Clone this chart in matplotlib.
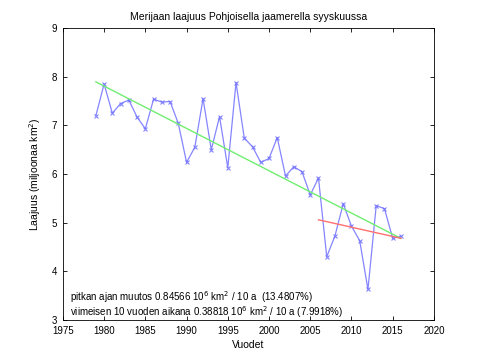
import numpy as np
import matplotlib
matplotlib.use('Agg')
import matplotlib.pyplot as plt

# September sea ice extent, million km^2
years = list(range(1979, 2017))
extent = [7.20, 7.85, 7.25, 7.45, 7.52, 7.17, 6.93, 7.54, 7.48, 7.49,
          7.04, 6.24, 6.55, 7.55, 6.50, 7.18, 6.13, 7.88, 6.74, 6.56,
          6.24, 6.32, 6.75, 5.96, 6.15, 6.05, 5.57, 5.92, 4.30, 4.73,
          5.39, 4.93, 4.63, 3.63, 5.35, 5.29, 4.68, 4.72]

title = 'Merijaan laajuus Pohjoisella jaamerella syyskuussa'
xlabel = 'Vuodet'
ylabel = 'Laajuus (miljoonaa km$^2$)'
note_long = 'pitkan ajan muutos 0.84566 10$^6$ km$^2$ / 10 a  (13.4807%)'
note_short = 'viimeisen 10 vuoden aikana 0.38818 10$^6$ km$^2$ / 10 a (7.9918%)'

plt.rcParams['font.family'] = ['Liberation Sans', 'DejaVu Sans']
plt.rcParams['font.size'] = 7

x = np.array(years)
y = np.array(extent)

fig = plt.figure(figsize=(4.8, 3.6), dpi=100)
ax = fig.add_axes([0.131, 0.111, 0.773, 0.811])

ax.plot(x, y, color='#7070ff', marker='x', markersize=3, linewidth=0.9,
        markeredgewidth=0.8, alpha=0.85)

# long-term trend
p = np.polyfit(x, y, 1)
ax.plot(x, np.polyval(p, x), color='#70ee70', linewidth=1)

# last 10 years trend
recent = x >= 2006
p2 = np.polyfit(x[recent], y[recent], 1)
ax.plot(x[recent], np.polyval(p2, x[recent]), color='#ff7070', linewidth=1)

ax.text(1975.9, 3.48, note_long, fontsize=7, va='center')
ax.text(1975.9, 3.17, note_short, fontsize=7, va='center')

ax.set_xlim(1975, 2020)
ax.set_ylim(3, 9)
ax.set_xticks(range(1975, 2021, 5))
ax.set_yticks(range(3, 10))
ax.tick_params(direction='in', top=True, right=True, length=3, width=0.6, pad=4)
for s in ax.spines.values():
    s.set_linewidth(0.6)
ax.set_title(title, fontsize=7.5, pad=6)
ax.set_xlabel(xlabel, fontsize=7.5, labelpad=3)
ax.set_ylabel(ylabel, fontsize=7.5, labelpad=6)

fig.savefig('out.png', dpi=100)
